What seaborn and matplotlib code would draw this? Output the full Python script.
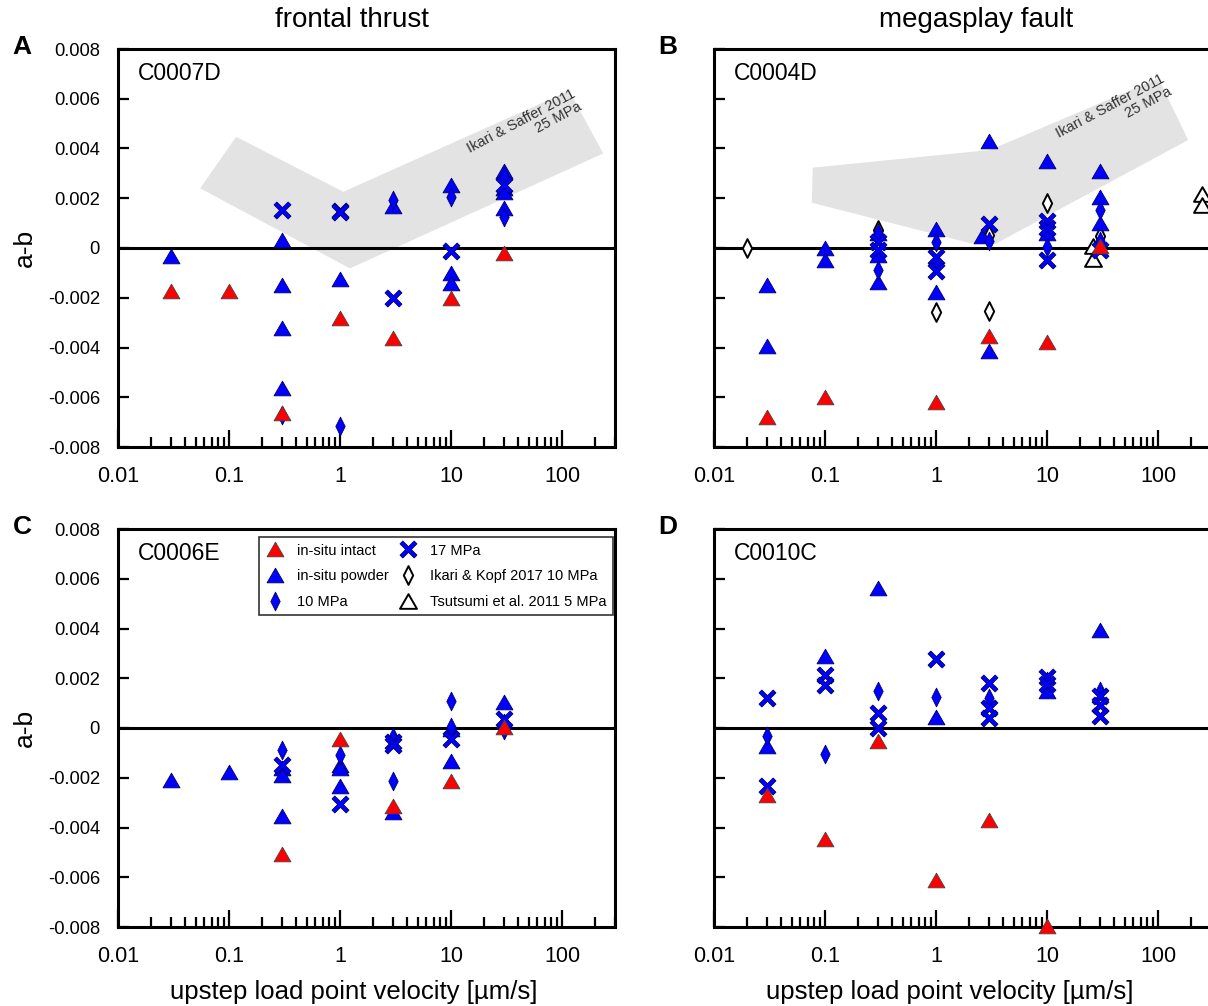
import numpy as np
import matplotlib
matplotlib.use("Agg")
import matplotlib.pyplot as plt
import seaborn as sns
from matplotlib.markers import MarkerStyle
from matplotlib.path import Path
from matplotlib.lines import Line2D
from matplotlib.ticker import LogLocator, FixedLocator, NullFormatter

sns.set_theme(style="white")
plt.rcParams["font.family"] = ["Liberation Sans", "DejaVu Sans"]
plt.rcParams["text.color"] = "black"
plt.rcParams["axes.labelcolor"] = "black"
plt.rcParams["xtick.color"] = "black"
plt.rcParams["ytick.color"] = "black"

# ---------------- data ----------------
x_tick_vals = [0.01, 0.1, 1, 10, 100]
x_tick_labels = ["0.01", "0.1", "1", "10", "100"]
y_tick_vals = [-0.008, -0.006, -0.004, -0.002, 0, 0.002, 0.004, 0.006, 0.008]
y_tick_labels = ["-0.008", "-0.006", "-0.004", "-0.002", "0", "0.002", "0.004", "0.006", "0.008"]

# Panel A  C0007D (frontal thrust)
a_intact_v = [0.03, 0.1, 0.3, 1, 3, 10, 30]
a_intact_ab = [-0.00174, -0.00174, -0.00664, -0.00281, -0.00363, -0.00202, -0.0002]
a_powder_v = [0.03, 0.3, 0.3, 0.3, 0.3, 1, 3, 10, 10, 10, 30, 30, 30, 30]
a_powder_ab = [-0.00033, 0.00033, -0.00147, -0.00323, -0.00564, -0.00123, 0.00169,
               0.00253, -0.0010, -0.00142, 0.0031, 0.0024, 0.00225, 0.0016]
a_10mpa_v = [0.3, 1, 3, 10, 30, 30]
a_10mpa_ab = [-0.0067, -0.00716, 0.00194, 0.00206, 0.0029, 0.00126]
a_17mpa_v = [0.3, 1, 1, 3, 10, 30]
a_17mpa_ab = [0.00154, 0.00147, 0.00143, -0.00201, -0.00012, 0.00253]
a_band_v = [0.055, 0.116, 1.07, 116, 235, 1.23]
a_band_ab = [0.0024, 0.00447, 0.00226, 0.00632, 0.0038, -0.00082]

# Panel B  C0004D (megasplay fault)
b_intact_v = [0.03, 0.1, 1, 3, 10, 30]
b_intact_ab = [-0.00679, -0.00598, -0.0062, -0.00353, -0.00379, 0.00007]
b_powder_v = [0.03, 0.03, 0.1, 0.1, 0.3, 0.3, 0.3, 1, 1, 2.6, 3, 3, 10, 10, 30, 30, 30]
b_powder_ab = [-0.00147, -0.00395, 0.0, -0.00047, 0.0006, -0.0003, -0.00135, 0.00076,
               -0.00175, 0.00048, 0.0043, -0.00415, 0.0035, 0.0006, 0.00308, 0.00207, 0.001]
b_10mpa_v = [0.3, 0.3, 1, 1, 3, 10, 30, 30]
b_10mpa_ab = [0.0006, -0.00088, 0.00025, -0.0006, 0.0003, 0.00003, 0.00154, 0.0003]
b_17mpa_v = [0.3, 0.3, 1, 1, 3, 10, 10, 10, 30]
b_17mpa_ab = [0.00025, -0.00008, -0.00035, -0.00092, 0.00095, 0.0011, 0.0008, -0.00048, -0.0001]
b_kopf_v = [0.02, 0.3, 1, 3, 3, 10, 30]
b_kopf_ab = [0.0, 0.00071, -0.00257, 0.00054, -0.00254, 0.0018, 0.00047]
b_tsu_v = [26, 26, 250, 250]
b_tsu_ab = [0.00007, -0.00043, 0.00218, 0.00174]
b_band_v = [0.076, 2.05, 3.4, 187, 100.7, 3.06, 0.0775]
b_band_ab = [0.00182, 0.00019, 0.00016, 0.00434, 0.00682, 0.00394, 0.00323]

# Panel C  C0006E (frontal thrust)
c_intact_v = [0.3, 1, 3, 10, 30]
c_intact_ab = [-0.00507, -0.00043, -0.00312, -0.00213, 0.00004]
c_powder_v = [0.03, 0.1, 0.3, 0.3, 0.3, 1, 1, 1, 3, 10, 10, 30, 30]
c_powder_ab = [-0.0021, -0.00178, -0.0016, -0.0019, -0.00353, -0.00147, -0.0016, -0.00233,
               -0.00338, -0.00004, -0.00131, 0.00103, 0.0003]
c_10mpa_v = [0.3, 1, 3, 3, 10, 10, 30]
c_10mpa_ab = [-0.0009, -0.00108, -0.00037, -0.00215, 0.00108, 0.00005, -0.0001]
c_17mpa_v = [0.3, 1, 3, 3, 10, 30]
c_17mpa_ab = [-0.0015, -0.00304, -0.00055, -0.0007, -0.00043, 0.00037]

# Panel D  C0010C (megasplay fault)
d_intact_v = [0.03, 0.1, 0.3, 1, 3, 10]
d_intact_ab = [-0.00268, -0.00448, -0.00054, -0.0061, -0.0037, -0.00795]
d_powder_v = [0.03, 0.1, 0.3, 1, 10, 30]
d_powder_ab = [-0.00074, 0.00288, 0.00562, 0.00043, 0.00148, 0.00395]
d_10mpa_v = [0.03, 0.1, 0.3, 1, 3, 10, 30]
d_10mpa_ab = [-0.00034, -0.00103, 0.0015, 0.00124, 0.0012, 0.0019, 0.00147]
d_17mpa_v = [0.03, 0.03, 0.1, 0.1, 0.3, 0.3, 1, 3, 3, 3, 10, 10, 30, 30, 30]
d_17mpa_ab = [0.0012, -0.00234, 0.00214, 0.00174, 0.0006, -0.00002, 0.00278, 0.0018,
              0.00081, 0.0004, 0.00207, 0.00175, 0.0013, 0.00092, 0.00047]

legend_labels = ["in-situ intact", "in-situ powder", "10 MPa", "17 MPa",
                 "Ikari & Kopf 2017 10 MPa", "Tsutsumi et al. 2011 5 MPa"]

# ---------------- styles ----------------
def closed_marker(verts):
    verts = list(verts) + [verts[0]]
    return MarkerStyle(Path(verts, closed=True))

TRI = closed_marker([(-1, -0.866), (1, -0.866), (0, 0.866)])
DIA = closed_marker([(0, -1), (0.5, 0), (0, 1), (-0.5, 0)])
cc = 0.33
XM = closed_marker([(-(1 - cc), -1), (0, -cc), (1 - cc, -1), (1, -(1 - cc)), (cc, 0), (1, 1 - cc),
                    (1 - cc, 1), (0, cc), (-(1 - cc), 1), (-1, 1 - cc), (-cc, 0), (-1, -(1 - cc))])
RED, BLUE = "#ff0000", "#0000ff"

sty = {
    "intact": dict(marker=TRI, s=12.2 ** 2, color=RED, edgecolor="#444444", linewidth=0.6, zorder=6),
    "powder": dict(marker=TRI, s=12.2 ** 2, color=BLUE, edgecolor="#000066", linewidth=0.6, zorder=3),
    "10mpa": dict(marker=DIA, s=13.5 ** 2, color=BLUE, edgecolor="#000066", linewidth=0.6, zorder=4),
    "17mpa": dict(marker=XM, s=12.2 ** 2, color=BLUE, edgecolor="#000066", linewidth=0.6, zorder=5),
    "kopf": dict(marker=DIA, s=13.5 ** 2, color="white", edgecolor="black", linewidth=1.4, zorder=2),
    "tsu": dict(marker=TRI, s=12.2 ** 2, color="white", edgecolor="black", linewidth=1.4, zorder=2),
}

def handle(key):
    st = sty[key]
    return Line2D([], [], ls="none", marker=st["marker"], markersize=np.sqrt(st["s"]),
                  markerfacecolor=st["color"], markeredgecolor=st["edgecolor"],
                  markeredgewidth=st["linewidth"])

fig = plt.figure(figsize=(12.08, 10.06), dpi=100)
FW, FH = 1208.0, 1006.0
W, H = 497 / FW, 398 / FH

def make_ax(left_px, bottom_px):
    return fig.add_axes([left_px / FW, 1 - bottom_px / FH, W, H])

def panel(ax, site, series, band=None, ylab=True, xlab=False):
    if band is not None:
        ax.fill(band[0], band[1], color="#e3e3e3", lw=0, zorder=0)
        ax.text(band[2], band[3], "Ikari & Saffer 2011\n25 MPa", rotation=28,
                rotation_mode="anchor", ha="center", va="center", multialignment="right",
                fontsize=10.5, color="#333333", zorder=1, linespacing=1.0)
    ax.axhline(0, color="black", lw=2.2, zorder=1)
    for key, (v, ab) in series.items():
        st = dict(sty[key])
        sns.scatterplot(x=v, y=ab, ax=ax, legend=False, clip_on=False, **st)
    ax.set_xscale("log")
    ax.set_xlim(0.01, 300)
    ax.set_ylim(-0.008, 0.008)
    ax.xaxis.set_major_locator(FixedLocator(x_tick_vals))
    ax.set_xticklabels(x_tick_labels)
    ax.xaxis.set_minor_locator(LogLocator(base=10, subs=range(2, 10), numticks=20))
    ax.xaxis.set_minor_formatter(NullFormatter())
    ax.set_yticks(y_tick_vals)
    if ylab:
        ax.set_yticklabels(y_tick_labels)
        ax.set_ylabel("a-b", fontsize=19, color="black")
        ax.yaxis.set_label_coords(-0.163, 0.5)
    else:
        ax.set_yticklabels([])
    ax.tick_params(axis="x", which="major", direction="in", length=12, width=1.6,
                   labelsize=15.5, pad=14, colors="black", bottom=True, top=False)
    ax.tick_params(axis="x", which="minor", direction="in", length=7, width=1.6,
                   bottom=True, top=False)
    ax.tick_params(axis="y", which="major", direction="in", length=8, width=1.6,
                   labelsize=13.2, pad=13, colors="black", left=True, right=False)
    for sp in ax.spines.values():
        sp.set_color("black")
        sp.set_linewidth(2.2)
        sp.set_visible(True)
    ax.text(0.040, 0.967, site, transform=ax.transAxes, fontsize=16.5, ha="left", va="top",
            color="black")
    if xlab:
        ax.set_xlabel("upstep load point velocity [µm/s]", fontsize=18.5, color="black")
        ax.xaxis.set_label_coords(0.475, -0.132)
    ax.set_facecolor("white")

axA = make_ax(118, 447)
axB = make_ax(714, 447)
axC = make_ax(118, 927)
axD = make_ax(714, 927)

panel(axA, "C0007D", {"powder": (a_powder_v, a_powder_ab), "10mpa": (a_10mpa_v, a_10mpa_ab),
                      "17mpa": (a_17mpa_v, a_17mpa_ab), "intact": (a_intact_v, a_intact_ab)},
      band=(a_band_v, a_band_ab, 46, 0.00485))
panel(axB, "C0004D", {"kopf": (b_kopf_v, b_kopf_ab), "tsu": (b_tsu_v, b_tsu_ab),
                      "powder": (b_powder_v, b_powder_ab), "10mpa": (b_10mpa_v, b_10mpa_ab),
                      "17mpa": (b_17mpa_v, b_17mpa_ab), "intact": (b_intact_v, b_intact_ab)},
      band=(b_band_v, b_band_ab, 40, 0.00545), ylab=False)
panel(axC, "C0006E", {"powder": (c_powder_v, c_powder_ab), "10mpa": (c_10mpa_v, c_10mpa_ab),
                      "17mpa": (c_17mpa_v, c_17mpa_ab), "intact": (c_intact_v, c_intact_ab)},
      xlab=True)
panel(axD, "C0010C", {"powder": (d_powder_v, d_powder_ab), "10mpa": (d_10mpa_v, d_10mpa_ab),
                      "17mpa": (d_17mpa_v, d_17mpa_ab), "intact": (d_intact_v, d_intact_ab)},
      ylab=False, xlab=True)

handles = [handle(k) for k in ["intact", "powder", "10mpa", "17mpa", "kopf", "tsu"]]
leg = axC.legend(handles=handles, labels=legend_labels, ncol=2, loc="upper right",
                 bbox_to_anchor=(0.996, 0.980), frameon=True, fancybox=False,
                 edgecolor="black", fontsize=10.5, borderaxespad=0, handletextpad=0.8,
                 columnspacing=0.6, labelspacing=0.8, handlelength=1.4, borderpad=0.45)
leg.get_frame().set_linewidth(1.2)
leg.set_zorder(10)

fig.text(352 / FW, 1 - 20 / FH, "frontal thrust", fontsize=20, ha="center", va="center")
fig.text(976 / FW, 1 - 20 / FH, "megasplay fault", fontsize=20, ha="center", va="center")
for lab, xp, yp in [("A", 22, 47), ("B", 668, 47), ("C", 22, 527), ("D", 668, 527)]:
    fig.text(xp / FW, 1 - yp / FH, lab, fontsize=19, fontweight="bold", ha="center", va="center")

fig.savefig("out.png", dpi=100, facecolor="white")
